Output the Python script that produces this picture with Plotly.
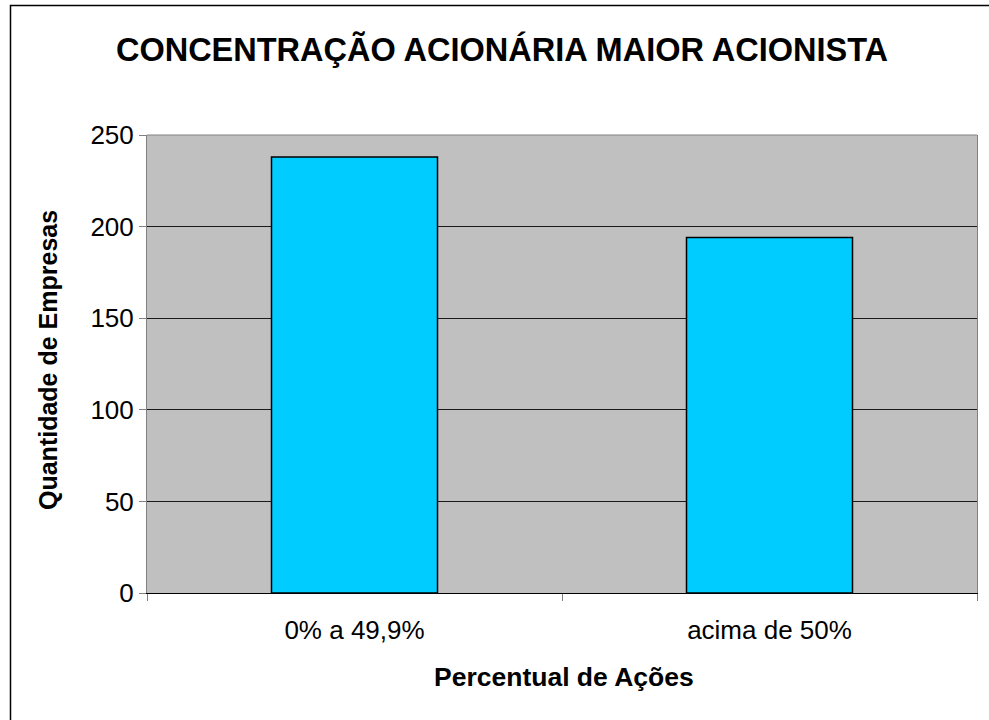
import plotly.graph_objects as go

categories = ["0% a 49,9%", "acima de 50%"]
values = [238, 194]
y_ticks = [0, 50, 100, 150, 200, 250]

title_text = "CONCENTRAÇÃO ACIONÁRIA MAIOR ACIONISTA"
x_title = "Percentual de Ações"
y_title = "Quantidade de Empresas"

FONT = "Liberation Sans, Arial, sans-serif"
W, H = 989, 720
L, R, T, B = 147, 12, 135, 127
PW, PH = W - L - R, H - T - B

def px_x(x):
    return (x - L) / PW

def px_y(y):
    return (H - B - y) / PH

fig = go.Figure()
fig.add_trace(go.Bar(
    x=categories, y=values, width=0.4,
    marker=dict(color="#00CCFF", line=dict(color="black", width=1.5)),
))

fig.update_layout(
    width=W, height=H,
    margin=dict(l=L, r=R, t=T, b=B),
    paper_bgcolor="white", plot_bgcolor="#C0C0C0",
    showlegend=False,
    font=dict(family=FONT, color="black", size=26),
    title=dict(text="<b>" + title_text + "</b>", x=502 / W, xanchor="center",
               xref="container", y=1 - 50 / H, yanchor="middle", yref="container",
               font=dict(family=FONT, size=32.5, color="black")),
    xaxis=dict(type="category", range=[-0.5, 1.5], showline=True, linecolor="black",
               linewidth=1, ticks="outside", tickson="boundaries", ticklen=7,
               tickcolor="#808080", showgrid=False, ticklabelstandoff=14,
               tickfont=dict(family=FONT, size=26, color="black")),
    yaxis=dict(range=[0, 250], tickvals=y_ticks, showline=True, linecolor="#808080",
               linewidth=1, mirror=True, ticks="outside", ticklen=7, tickcolor="#808080",
               showgrid=True, gridcolor="#1a1a1a", gridwidth=1, zeroline=False,
               tickfont=dict(family=FONT, size=26, color="black")),
    annotations=[
        dict(text="<b>" + y_title + "</b>", xref="paper", yref="paper",
             x=px_x(48), y=px_y(360), textangle=-90, showarrow=False,
             xanchor="center", yanchor="middle",
             font=dict(family=FONT, size=25, color="black")),
        dict(text="<b>" + x_title + "</b>", xref="paper", yref="paper",
             x=px_x(564), y=px_y(677), showarrow=False,
             xanchor="center", yanchor="middle",
             font=dict(family=FONT, size=26.5, color="black")),
    ],
    shapes=[
        dict(type="line", xref="paper", yref="paper", x0=0, x1=1, y0=1, y1=1,
             line=dict(color="#808080", width=1)),
        dict(type="rect", xref="paper", yref="paper",
             x0=px_x(10.5), x1=px_x(1000), y0=px_y(5.5), y1=px_y(730),
             line=dict(color="black", width=1.5), fillcolor="rgba(0,0,0,0)"),
    ],
)

fig.write_html("out.html", config={"displayModeBar": False},
               post_script="document.body.style.margin='0';")
